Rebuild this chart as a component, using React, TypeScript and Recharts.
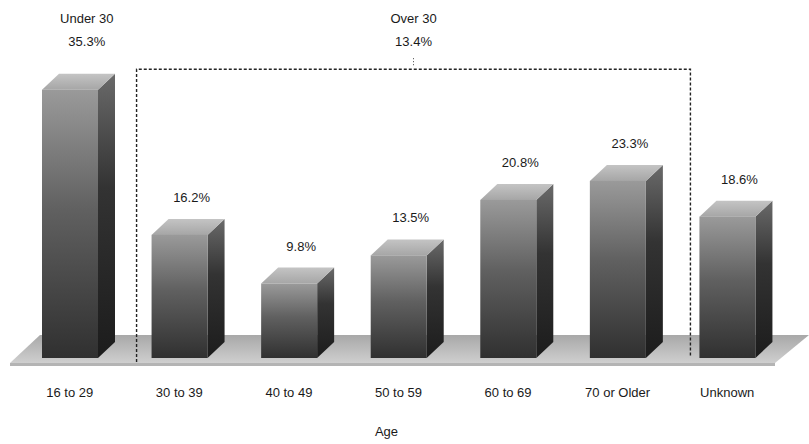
import React from 'react';
import { BarChart, Bar, XAxis, YAxis, ReferenceArea, LabelList } from 'recharts';

// age bands and share of each (percent)
const ageGroups = ['16 to 29', '30 to 39', '40 to 49', '50 to 59', '60 to 69', '70 or Older', 'Unknown'];
const sharePct = [35.3, 16.2, 9.8, 13.5, 20.8, 23.3, 18.6];

// summary groups shown above the bars
const groupNames = ['Under 30', 'Over 30'];
const groupPct = [35.3, 13.4];
const groupFirst = ['16 to 29', '30 to 39'];
const groupLast = ['16 to 29', '70 or Older'];
const groupBoxed = [false, true];

const GROUP_TOP = 38; // value at which the dashed box top sits
const DX = 17;
const DY = 16;

const data = ageGroups.map((name, i) => ({ name, value: sharePct[i] }));

const Bar3D = (props: any) => {
  const { x, y, width, height } = props;
  if (!height || height <= 0) return null;
  const side = `${x + width},${y} ${x + width + DX},${y - DY} ${x + width + DX},${y + height - DY} ${x + width},${y + height}`;
  const top = `${x},${y} ${x + DX},${y - DY} ${x + width + DX},${y - DY} ${x + width},${y}`;
  return (
    <g>
      <polygon points={side} fill="url(#sideGrad)" />
      <polygon points={top} fill="url(#topGrad)" />
      <rect x={x} y={y} width={width} height={height} fill="url(#frontGrad)" />
    </g>
  );
};

const Floor = (props: any) => {
  const { x, y, width, height } = props;
  const base = y + height;
  const pts = `${x - 5},${base + 5} ${x + width - 7},${base + 5} ${x + width + 27},${base - 23} ${x + 25},${base - 23}`;
  const edge = `${x - 5},${base + 5} ${x + width - 7},${base + 5} ${x + width - 7},${base + 8} ${x - 5},${base + 8}`;
  return (
    <g>
      <polygon points={pts} fill="url(#floorGrad)" />
      <polygon points={edge} fill="#b4b4b4" />
    </g>
  );
};

const GroupMark = (i: number) => (props: any) => {
  const { x, y, width, height } = props;
  const base = y + height;
  const left = x + 12;
  const right = x + width + 18;
  const cx = groupBoxed[i] ? (left + right) / 2 : x + width / 2 + 17;
  return (
    <g>
      {groupBoxed[i] && (
        <>
          <path
            d={`M${left},${base + 4} L${left},${y} L${right},${y} L${right},${base - 2}`}
            fill="none"
            stroke="#222"
            strokeWidth={1.4}
            strokeDasharray="3 2"
          />
          <line x1={cx} x2={cx} y1={y - 11} y2={y - 4} stroke="#444" strokeDasharray="1 2" />
        </>
      )}
      <text x={cx} y={y - 46} textAnchor="middle" fontSize={13} fill="#1a1a1a">
        {groupNames[i]}
      </text>
      <text x={cx} y={y - 23} textAnchor="middle" fontSize={13} fill="#1a1a1a">
        {groupPct[i].toFixed(1)}%
      </text>
    </g>
  );
};

// bars that form a group on their own already carry the group label
const ValueLabel = (props: any) => {
  const { x, y, width, value, index } = props;
  if (groupFirst.some((f, g) => f === groupLast[g] && ageGroups.indexOf(f) === index)) return null;
  return (
    <text x={x + width / 2 + 12} y={y - 33} textAnchor="middle" fontSize={13} fill="#1a1a1a">
      {Number(value).toFixed(1)}%
    </text>
  );
};

export default function App() {
  return (
    <div
      style={{
        position: 'absolute',
        left: 0,
        top: 0,
        width: 809,
        height: 444,
        background: '#fff',
        fontFamily: '"Liberation Sans", Arial, sans-serif',
      }}
    >
      <BarChart
        width={809}
        height={444}
        data={data}
        margin={{ top: 54, right: 27, bottom: 0, left: 15 }}
        barSize={56}
      >
        <defs>
          <linearGradient id="frontGrad" x1="0" y1="0" x2="0" y2="1">
            <stop offset="0%" stopColor="#9a9a9a" />
            <stop offset="45%" stopColor="#606060" />
            <stop offset="100%" stopColor="#303030" />
          </linearGradient>
          <linearGradient id="sideGrad" x1="0" y1="0" x2="0" y2="1">
            <stop offset="0%" stopColor="#6a6a6a" />
            <stop offset="40%" stopColor="#333" />
            <stop offset="100%" stopColor="#1c1c1c" />
          </linearGradient>
          <linearGradient id="topGrad" x1="0" y1="0" x2="0" y2="1">
            <stop offset="0%" stopColor="#c4c4c4" />
            <stop offset="100%" stopColor="#a6a6a6" />
          </linearGradient>
          <linearGradient id="floorGrad" x1="0" y1="0" x2="0" y2="1">
            <stop offset="0%" stopColor="#a8a8a8" />
            <stop offset="100%" stopColor="#cfcfcf" />
          </linearGradient>
        </defs>
        <XAxis
          dataKey="name"
          axisLine={false}
          tickLine={false}
          height={86}
          tickMargin={24}
          tick={{ fontSize: 13, fill: '#1a1a1a' }}
          interval={0}
          label={{ value: 'Age', position: 'insideBottom', offset: 8, dx: -12, fontSize: 13, fill: '#1a1a1a' }}
        />
        <YAxis hide domain={[0, 40]} />
        <ReferenceArea
          x1={ageGroups[0]}
          x2={ageGroups[ageGroups.length - 1]}
          y1={0}
          y2={1}
          shape={Floor}
        />
        {groupNames.map((g, i) => (
          <ReferenceArea
            key={g}
            x1={groupFirst[i]}
            x2={groupLast[i]}
            y1={0}
            y2={GROUP_TOP}
            shape={GroupMark(i)}
          />
        ))}
        <Bar dataKey="value" shape={Bar3D} isAnimationActive={false}>
          <LabelList dataKey="value" content={ValueLabel} />
        </Bar>
      </BarChart>
    </div>
  );
}
